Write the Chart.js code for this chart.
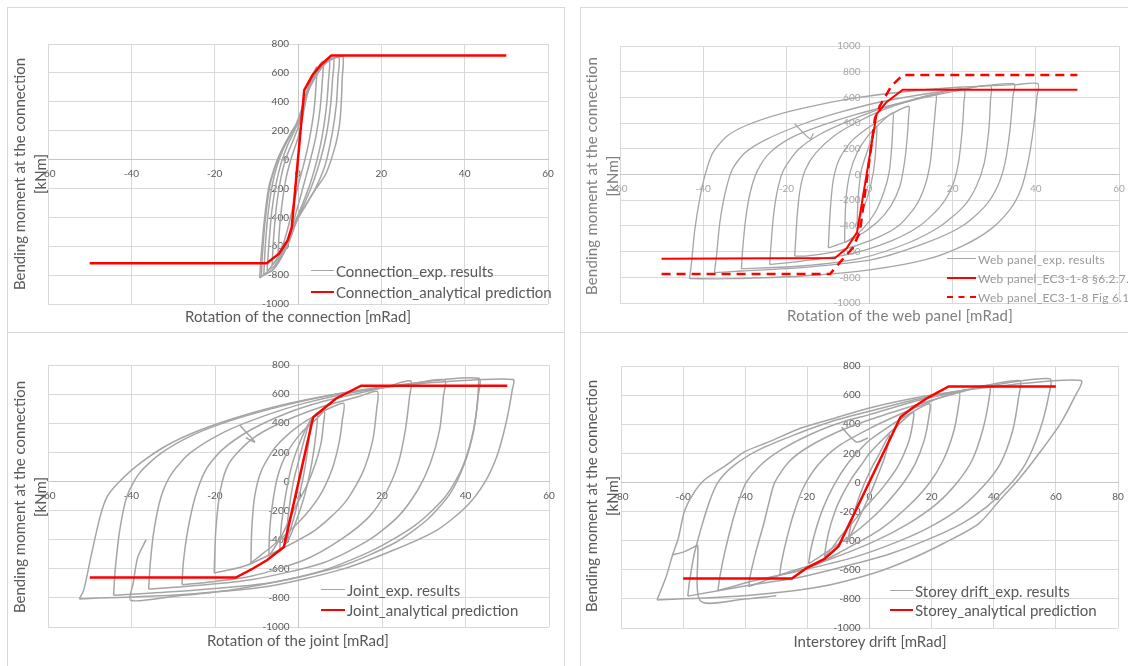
<!DOCTYPE html>
<html>
<head>
<meta charset="utf-8">
<script src="https://cdn.jsdelivr.net/npm/chart.js@4.4.0/dist/chart.umd.min.js"></script>
<style>
  body { margin: 0; width: 1128px; height: 666px; background: #fff; position: relative; overflow: hidden; font-family: Lato, "Open Sans", sans-serif; }
  .frame { position: absolute; border: 1px solid #d9d9d9; box-sizing: border-box; }
  canvas { position: absolute; }
  .xtitle { position: absolute; transform: translate(-50%, -50%); font-size: 15px; color: #595959; white-space: nowrap; }
  .ytitle { position: absolute; transform: translate(-50%, -50%) rotate(-90deg); font-size: 15px; line-height: 21px; color: #595959; white-space: nowrap; text-align: center; }
  .lgtext { position: absolute; transform: translateY(-50%); font-size: 15px; color: #595959; white-space: nowrap; }
  .sw { position: absolute; height: 0; }
  .web { color: #7f7f7f; letter-spacing: 0.2px; }
  .lgtext.web { font-size: 12px; color: #999; letter-spacing: 0.25px; }
</style>
</head>
<body>
<div class="frame" style="left:7px;top:7px;width:558px;height:326px"></div>
<div class="frame" style="left:7px;top:332px;width:558px;height:400px"></div>
<div class="frame" style="left:580px;top:7px;width:600px;height:326px"></div>
<div class="frame" style="left:580px;top:332px;width:600px;height:400px"></div>
<canvas id="c1"></canvas>
<canvas id="c2"></canvas>
<canvas id="c3"></canvas>
<canvas id="c4"></canvas>
<script>
// tick values
const rotTicks = [-60, -40, -20, 0, 20, 40, 60];
const driftTicks = [-80, -60, -40, -20, 0, 20, 40, 60, 80];
const momTicks = [-1000, -800, -600, -400, -200, 0, 200, 400, 600, 800];
const webMomTicks = [-1000, -800, -600, -400, -200, 0, 200, 400, 600, 800, 1000];

// text
const connNames = ['Connection_exp. results', 'Connection_analytical prediction'];
const webNames = ['Web panel_exp. results', 'Web panel_EC3-1-8 §6.2.7.2', 'Web panel_EC3-1-8 Fig 6.15'];
const jointNames = ['Joint_exp. results', 'Joint_analytical prediction'];
const driftNames = ['Storey drift_exp. results', 'Storey_analytical prediction'];
const xTitles = ['Rotation of the connection [mRad]', 'Rotation of the web panel [mRad]', 'Rotation of the joint [mRad]', 'Interstorey drift [mRad]'];
const yTitle = ['Bending moment at the connection', '[kNm]'];

// connection: analytical + measured loops [rotation, moment]
const connRed = [[-50,-718],[-7.5,-718],[-4.5,-650],[-2.5,-560],[-1.5,-470],[1.5,480],[3.5,585],[5.5,655],[8,720],[50,720]];
const connLoops = [
  [[-4.8,-660],[-4.5,-500],[-3.8,-300],[-2.8,-120],[-1.5,20],[0,150],[1,280],[2,420],[3.2,560],[4.5,640],[4.3,500],[3.8,330],[2.8,150],[1.5,-20],[0.2,-160],[-1,-300],[-2.2,-450],[-3.5,-580],[-4.8,-660]],
  [[-6.2,-730],[-5.9,-560],[-5.2,-330],[-4.2,-140],[-3,0],[-1.5,110],[0,220],[1,330],[2.2,470],[3.8,590],[6,680],[5.8,530],[5.3,350],[4.3,160],[3,0],[1.6,-150],[0.2,-300],[-1.2,-440],[-2.8,-580],[-4.5,-680],[-6.2,-730]],
  [[-7.4,-770],[-7,-590],[-6.3,-360],[-5.2,-160],[-4,-20],[-2.5,100],[-1,190],[0.3,280],[1.5,410],[3,540],[5,640],[7.5,700],[7.3,540],[6.8,360],[5.8,160],[4.5,-10],[3,-160],[1.2,-300],[-0.5,-420],[-2,-540],[-3.8,-660],[-5.8,-740],[-7.4,-770]],
  [[-8.2,-795],[-7.9,-620],[-7.2,-380],[-6.2,-180],[-5,-40],[-3.4,80],[-1.6,180],[0,260],[1.3,380],[2.8,510],[5,620],[8.5,705],[8.3,560],[7.8,370],[6.8,170],[5.4,0],[3.6,-160],[1.6,-300],[-0.3,-420],[-2,-560],[-4,-680],[-6.2,-770],[-8.2,-795]],
  [[-8.8,-810],[-8.5,-640],[-7.8,-400],[-6.8,-190],[-5.6,-60],[-4,60],[-2,170],[-0.4,250],[1,360],[2.5,490],[4.6,600],[7,680],[9.8,708],[9.6,570],[9.2,380],[8.2,180],[6.5,-40],[4.2,-200],[1.8,-320],[0,-410],[-1.6,-520],[-3.3,-640],[-6,-760],[-8.8,-810]],
  [[-9.2,-820],[-8.8,-650],[-8,-400],[-7,-190],[-5.8,-70],[-4.6,20],[-3,110],[-1.4,190],[0,250],[1,340],[2.2,455],[4.2,570],[6.6,665],[9,705],[10.8,711],[10.6,560],[10.4,400],[10,250],[9,100],[6.7,-98],[4,-215],[1.5,-330],[-0.2,-400],[-1.5,-480],[-2.8,-586],[-5.4,-700],[-7.5,-780],[-9.2,-820]]
];

// web panel
const webRed = [[-50,-655],[-8.3,-650],[-5.5,-575],[-3,-450],[1.7,470],[4,560],[8,660],[50,660]];
const webRedFig = [[-50,-775],[-9.5,-775],[-7,-680],[-4,-570],[-2.3,-445],[1.3,435],[2.5,535],[5.3,690],[8,775],[50,775]];
const webLoops = [
  [[-3,-401],[-2.7,-168],[-1.9,39],[-0.4,194],[1.7,376],[1.5,194],[0.9,13],[-0.4,-168],[-2.1,-324],[-3,-401]],
  [[-6,-531],[-5.9,-376],[-5.6,-168],[-4.7,13],[-3,168],[-0.4,298],[2.6,401],[5.6,479],[5.6,376],[5.3,194],[4.7,13],[3.4,-142],[1.3,-298],[-1.7,-427],[-4.7,-505],[-6,-531]],
  [[-9.9,-570],[-9.7,-427],[-9.3,-220],[-8.7,-39],[-7.3,117],[-4.7,246],[-0.9,350],[4.3,453],[9.4,531],[9.4,453],[9.1,298],[8.4,91],[7.3,-91],[5.1,-246],[1.7,-376],[-3.4,-492],[-8.6,-557],[-9.9,-570]],
  [[-18,-635],[-17.8,-531],[-17.4,-324],[-16.7,-117],[-15.4,39],[-12.9,168],[-8.6,298],[-3.4,401],[3.4,505],[9.4,570],[15.9,622],[15.9,531],[15.4,350],[14.6,91],[13.3,-91],[11.1,-246],[6.9,-401],[0.9,-505],[-7.7,-596],[-15.4,-635],[-18,-635]],
  [[-24,-700],[-23.7,-557],[-23.1,-324],[-22.1,-117],[-20.6,39],[-17.1,194],[-12,311],[-5.1,415],[3.4,518],[13.7,609],[22.7,666],[22.7,557],[22.3,350],[21.4,91],[19.9,-91],[17.1,-246],[12,-401],[5.1,-518],[-5.1,-622],[-16.3,-674],[-24,-700]],
  [[-30.8,-733],[-30.5,-583],[-29.8,-350],[-28.7,-142],[-27,26],[-24,168],[-18.9,285],[-12,376],[-3.4,466],[9.4,570],[20.6,648],[29.1,692],[29.1,583],[28.7,350],[27.6,91],[25.7,-91],[22.7,-246],[17.1,-401],[9.4,-531],[-1.7,-648],[-16.3,-712],[-30.8,-733]],
  [[-37.3,-764],[-36.8,-635],[-36,-376],[-34.7,-142],[-33,39],[-30,168],[-24.9,272],[-16.3,389],[-7.7,479],[3.4,570],[18,648],[34.7,707],[34.5,609],[33.8,350],[32.6,91],[30.8,-91],[27.8,-246],[22.3,-401],[13.7,-531],[0.9,-661],[-16.3,-725],[-30.8,-751],[-37.3,-764]],
  [[-43.3,-811],[-42.8,-686],[-42,-427],[-40.7,-168],[-39.4,13],[-37.7,168],[-34.3,298],[-29.1,389],[-20.6,479],[-12,544],[-3.4,596],[9.4,648],[22.3,681],[35.1,699],[40.5,707],[40.3,609],[39.4,350],[38.1,91],[36.4,-117],[33.8,-272],[29.1,-427],[22.3,-557],[13.7,-661],[0.9,-738],[-16.3,-790],[-33.4,-811],[-43.3,-811]],
  [[-18,395],[-14.3,278],[-13.5,320]]
];

// joint
const jointRed = [[-50,-660],[-15,-660],[-11,-600],[-7.5,-540],[-3.5,-450],[3.5,440],[6,500],[9,570],[15,658],[50,658]];
const jointLoops = [
  [[-3,-420],[-2.4,-220],[-1.2,0],[0.3,170],[1.6,310],[2.8,420],[2.3,240],[1.2,40],[-0.3,-160],[-1.7,-310],[-3,-420]],
  [[-4.5,-480],[-4.1,-300],[-3,-80],[-1.5,120],[0.5,280],[2.5,400],[4.5,470],[4.2,330],[3.2,130],[1.6,-80],[-0.4,-260],[-2.4,-400],[-4.5,-480]],
  [[-7.1,-515],[-6.9,-332],[-6.2,-149],[-5,34],[-2.8,194],[0.6,332],[4.1,423],[6.2,480],[6,400],[5.4,263],[4.1,126],[1.9,-34],[-1.1,-194],[-4.1,-377],[-7.1,-515]],
  [[-11.4,-560],[-11.2,-332],[-10.5,-103],[-8.8,80],[-5.4,240],[-0.2,377],[5.8,480],[10.8,537],[10.5,423],[9.7,263],[8,80],[5,-103],[0.6,-263],[-5.4,-423],[-11.4,-560]],
  [[-20.2,-629],[-19.8,-332],[-18.7,-57],[-16.6,126],[-11.4,286],[-4.5,400],[5.8,515],[14.4,583],[18.9,618],[18.7,492],[17.8,286],[15.3,57],[11,-149],[4.1,-332],[-4.5,-469],[-13.1,-583],[-20.2,-629]],
  [[-27.9,-709],[-27.6,-560],[-26.5,-332],[-24.7,-103],[-22.2,80],[-18.3,217],[-11.4,355],[-2.8,469],[5.8,549],[14.4,606],[21.3,652],[26.9,690],[26.6,583],[25.6,355],[23.9,126],[21.3,-57],[17,-240],[10.1,-400],[1.5,-538],[-11.4,-652],[-23.4,-698],[-27.9,-709]],
  [[-35.9,-739],[-35.5,-560],[-34.6,-332],[-32.9,-103],[-30.3,57],[-26,194],[-18.3,332],[-9.7,435],[1.5,538],[14.4,618],[25.6,663],[35,698],[34.7,583],[33.8,355],[31.6,126],[28.6,-57],[23.9,-240],[17,-400],[5.8,-560],[-11.4,-675],[-28.6,-725],[-35.9,-739]],
  [[-44.3,-782],[-43.9,-606],[-42.8,-332],[-41.1,-103],[-38.1,57],[-32.9,194],[-25.2,320],[-15.7,423],[-2.8,526],[10.1,606],[27.3,675],[43.2,709],[43,583],[42,355],[39.8,126],[36.4,-80],[30.8,-263],[23,-423],[10.1,-583],[-7.1,-698],[-28.6,-755],[-44.3,-782]],
  [[-52.5,-807],[-51.4,-743],[-49.7,-515],[-47.5,-240],[-45.8,-103],[-43.2,-11],[-38.9,103],[-32,240],[-23.4,355],[-11.4,469],[1.5,560],[18.7,640],[35.9,686],[51.4,700],[51.2,629],[49.7,400],[47.5,172],[44.5,-11],[40.2,-172],[33.3,-332],[23,-469],[10.1,-606],[-7.1,-720],[-28.6,-778],[-52.5,-807]],
  [[43.2,709],[42.8,520],[41.5,300],[39,80],[35,-110],[28,-300],[18,-470],[5,-620],[-15,-740],[-30,-790],[-40.2,-817],[-39.6,-700],[-38.5,-520],[-36.5,-400]],
  [[-14,385],[-10.5,272],[-12.6,300]]
];

// storey drift
const driftRed = [[-60,-660],[-25,-660],[-20,-585],[-14.5,-525],[-10,-440],[10,450],[14,515],[19,585],[25.5,660],[60,660]];
const driftLoops = [
  [[-7,-400],[-5.5,-250],[-3,-80],[0,70],[3,190],[6.5,330],[5,180],[2.5,40],[0,-90],[-3.5,-250],[-7,-400]],
  [[-14.5,-513],[-13.9,-420],[-12.5,-290],[-10,-140],[-6,20],[-2,140],[0,200],[4,290],[9,390],[14.1,483],[13.9,403],[12.4,266],[9,105],[4.4,-32],[0,-140],[-2.5,-200],[-6,-290],[-9.3,-370],[-12,-450],[-14.5,-513]],
  [[-19.6,-559],[-19,-470],[-17.5,-340],[-15,-180],[-11.5,-20],[-7,130],[-2,250],[0,290],[6,380],[12,460],[19.3,540],[19.1,449],[17.6,289],[14.7,128],[10.7,-9],[4.4,-169],[0,-260],[-4.8,-345],[-13.9,-480],[-19.6,-559]],
  [[-28.9,-636],[-28.4,-556],[-26.8,-400],[-24.5,-220],[-21.4,-40],[-16.6,120],[-10,250],[0,370],[10,470],[20,560],[28.8,620],[28.6,518],[26.9,334],[23.7,151],[19.1,-9],[12.2,-169],[3,-330],[-8.4,-467],[-18.7,-580],[-28.9,-636]],
  [[-38.9,-716],[-38.4,-640],[-36.5,-470],[-34,-280],[-32.5,-150],[-30.5,0],[-26,140],[-20,240],[-10,350],[0,431],[10,500],[20,565],[30,625],[38.6,666],[38.4,563],[36.4,357],[33,151],[27.9,-9],[21.6,-147],[12.4,-284],[1,-410],[-13.9,-536],[-27.6,-627],[-38.9,-716]],
  [[-48.8,-744],[-48.2,-650],[-46.5,-470],[-44,-260],[-42,-120],[-39.7,0],[-35,120],[-28,230],[-18,340],[-8,420],[0,466],[15,560],[30,630],[48.3,700],[48,586],[46.1,357],[42.1,128],[36.4,-32],[29.6,-169],[20.4,-295],[10.1,-398],[-4.8,-513],[-22,-605],[-39.1,-685],[-48.8,-744]],
  [[-58.5,-781],[-58,-690],[-56.5,-500],[-54,-300],[-51.5,-130],[-48.8,0],[-44,110],[-36,220],[-25,320],[-12,420],[0,489],[15,570],[35,650],[58,712],[57.6,586],[54.8,357],[50.2,128],[44.5,-32],[37.6,-169],[29.6,-284],[18.1,-398],[6.7,-490],[-4.8,-559],[-22,-650],[-39.1,-708],[-58.5,-781]],
  [[-68.4,-808],[-65.5,-650],[-63.4,-498],[-61.5,-380],[-59.6,-200],[-56.5,-70],[-53,20],[-46,120],[-40,213],[-32,282],[-22,374],[-11,443],[0,512],[20,600],[45,670],[68.1,700],[66,586],[61.4,403],[54.5,197],[48,20],[42,-120],[35.1,-284],[23.6,-421],[12.2,-536],[0.8,-627],[-16.4,-719],[-39.3,-776],[-68.4,-808]],
  [[-63.4,-498],[-59.6,-475],[-56.3,-441],[-55.3,-432],[-54.4,-815],[-40,-800],[-30,-778]],
  [[-9,380],[-4.2,278],[-0.5,305]]
];

const PAD = 22;
const GREY = '#a5a5a5';
const RED = '#ff0000';

function greySets(loops, w) {
  return loops.map(pts => ({ data: pts, showLine: true, borderColor: GREY, borderWidth: w, tension: 0.25, pointRadius: 0, order: 2 }));
}
function redSet(pts, w, dash) {
  return { data: pts, showLine: true, borderColor: RED, borderWidth: w, borderDash: dash || [], tension: 0, pointRadius: 0, order: 1 };
}

function plot(id, box, xt, yt, sets, tickColor) {
  const cv = document.getElementById(id);
  cv.width = box.w + 2 * PAD;
  cv.height = box.h + 2 * PAD;
  cv.style.left = (box.x - PAD) + 'px';
  cv.style.top = (box.y - PAD) + 'px';
  const fixTicks = arr => scale => { scale.ticks = arr.map(v => ({ value: v })); };
  const plain = v => String(v);
  return new Chart(cv, {
    type: 'scatter',
    data: { datasets: sets },
    options: {
      responsive: false,
      animation: false,
      devicePixelRatio: 1,
      layout: { padding: PAD },
      plugins: { legend: { display: false }, tooltip: { enabled: false } },
      scales: {
        x: {
          type: 'linear', position: { y: 0 }, min: xt[0], max: xt[xt.length - 1],
          afterBuildTicks: fixTicks(xt),
          grid: { color: '#d9d9d9', drawTicks: false },
          border: { color: '#c6c6c6' },
          ticks: { color: tickColor, font: { family: 'Lato', size: 10 }, padding: 8, maxRotation: 0, autoSkip: false, callback: plain }
        },
        y: {
          type: 'linear', position: 'center', min: yt[0], max: yt[yt.length - 1],
          afterBuildTicks: fixTicks(yt),
          grid: { color: '#d9d9d9', drawTicks: false },
          border: { color: '#c6c6c6' },
          ticks: { color: tickColor, font: { family: 'Lato', size: 10 }, padding: 9, autoSkip: false, callback: plain }
        }
      }
    }
  });
}

plot('c1', { x: 48, y: 44, w: 500, h: 260 }, rotTicks, momTicks,
  [redSet(connRed, 2.5)].concat(greySets(connLoops, 1.5)), '#595959');
plot('c2', { x: 620, y: 46, w: 499, h: 257 }, rotTicks, webMomTicks,
  [redSet(webRed, 2), redSet(webRedFig, 2.5, [9, 6])].concat(greySets(webLoops, 1.3)), '#a6a6a6');
plot('c3', { x: 48, y: 365, w: 501, h: 262 }, rotTicks, momTicks,
  [redSet(jointRed, 2.5)].concat(greySets(jointLoops, 1.5)), '#595959');
plot('c4', { x: 621, y: 366, w: 497, h: 262 }, driftTicks, momTicks,
  [redSet(driftRed, 2.5)].concat(greySets(driftLoops, 1.5)), '#595959');

// axis titles and legends
function addText(cls, txt, x, y, extra) {
  const d = document.createElement('div');
  d.className = cls + (extra ? ' ' + extra : '');
  d.style.left = x + 'px';
  d.style.top = y + 'px';
  d.innerHTML = txt;
  document.body.appendChild(d);
}
function addLegend(x, w, ys, names, styles, extra) {
  names.forEach((n, i) => {
    const s = document.createElement('div');
    s.className = 'sw';
    s.style.left = x + 'px';
    s.style.width = w + 'px';
    s.style.top = (ys[i] - styles[i].w / 2) + 'px';
    s.style.borderTop = styles[i].w + 'px ' + (styles[i].dash ? 'dashed ' : 'solid ') + styles[i].c;
    document.body.appendChild(s);
    addText('lgtext', n, x + w + 2, ys[i], extra);
  });
}
const gStyle = { c: GREY, w: 1.5 };
const rStyle = { c: RED, w: 2.5 };

addText('xtitle', xTitles[0], 298, 316);
addText('xtitle', xTitles[1], 900, 315, 'web');
addText('xtitle', xTitles[2], 298, 640);
addText('xtitle', xTitles[3], 870, 641);
[[30, 174, ''], [602, 176, 'web'], [30, 497, ''], [602, 496, '']].forEach(p => {
  addText('ytitle', yTitle[0] + '<br>' + yTitle[1], p[0], p[1], p[2]);
});
addLegend(311, 23, [271, 292], connNames, [gStyle, rStyle]);
addLegend(947, 29, [259, 278, 297], webNames, [{ c: GREY, w: 1.3 }, { c: RED, w: 2 }, { c: RED, w: 2.5, dash: true }], 'web');
addLegend(321, 24, [590, 610], jointNames, [gStyle, rStyle]);
addLegend(890, 23, [591, 610], driftNames, [gStyle, rStyle]);
</script>
</body>
</html>
